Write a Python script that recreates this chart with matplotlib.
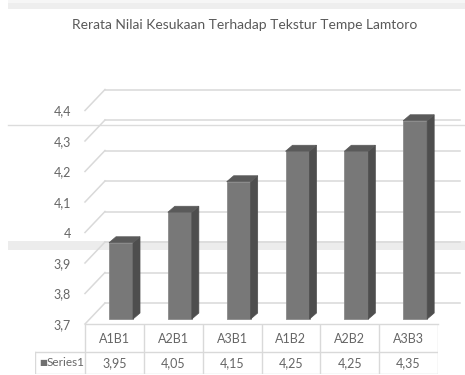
import matplotlib.pyplot as plt
from matplotlib.patches import Polygon, Rectangle
from matplotlib.lines import Line2D

categories = ['A1B1', 'A2B1', 'A3B1', 'A1B2', 'A2B2', 'A3B3']
values = [3.95, 4.05, 4.15, 4.25, 4.25, 4.35]
value_labels = ['3,95', '4,05', '4,15', '4,25', '4,25', '4,35']
yticks = [3.7, 3.8, 3.9, 4.0, 4.1, 4.2, 4.3, 4.4]
ytick_labels = ['3,7', '3,8', '3,9', '4', '4,1', '4,2', '4,3', '4,4']
series_name = 'Series1'
title = 'Rerata Nilai Kesukaan Terhadap Tekstur Tempe Lamtoro'

plt.rcParams['font.family'] = ['Lato', 'DejaVu Sans']

W, H = 465, 375
fig = plt.figure(figsize=(W / 100, H / 100), dpi=100)

# front plane of the 3d chart, in pixels
left, right = 85, 438
y_lo, y_hi = 324, 110.5
ax = fig.add_axes([left / W, (H - y_lo) / H, (right - left) / W, (y_lo - y_hi) / H])
ax.set_xlim(-0.5, len(categories) - 0.5)
ax.set_ylim(yticks[0], yticks[-1])

px_x = len(categories) / (right - left)
px_y = (yticks[-1] - yticks[0]) / (y_lo - y_hi)


def dx(p):
    return p * px_x


def dy(p):
    return p * px_y


grid_c = '#d9d9d9'
txt_c = '#666666'

# back wall gridlines + diagonals on the side wall
for v in yticks:
    ax.plot([-0.5 + dx(20), len(categories) - 0.5 + dx(22)], [v + dy(21)] * 2,
            color=grid_c, lw=1.1, clip_on=False, zorder=1)
    ax.plot([-0.5, -0.5 + dx(20)], [v, v + dy(21)],
            color=grid_c, lw=1.1, clip_on=False, zorder=1)
# front floor edge
ax.plot([-0.5, len(categories) - 0.5], [yticks[0]] * 2, color=grid_c, lw=1, clip_on=False)

# 3d bars
bw = dx(24)
off_x = dx(6.6)
base = yticks[0] + dy(5)
sx, sy = dx(7), dy(6)
for i, v in enumerate(values):
    xl = i + off_x - bw / 2
    xr = xl + bw
    top = v + dy(5)
    ax.bar(i + off_x, top - base, bottom=base, width=bw, color='#787878',
           edgecolor='#8a8a8a', lw=0.6, zorder=3)
    ax.add_patch(Polygon([(xr, base), (xr + sx, base + sy), (xr + sx, top + sy), (xr, top)],
                         closed=True, fc='#4e4e4e', ec='#4e4e4e', lw=0.5, zorder=3, clip_on=False))
    ax.add_patch(Polygon([(xl, top), (xl + sx, top + sy), (xr + sx, top + sy), (xr, top)],
                         closed=True, fc='#5a5a5a', ec='#5a5a5a', lw=0.5, zorder=4, clip_on=False))

ax.set_yticks(yticks)
ax.set_yticklabels(ytick_labels)
ax.tick_params(axis='y', length=0, pad=10, labelsize=9, labelcolor=txt_c)
ax.set_xticks([])
for s in ax.spines.values():
    s.set_visible(False)
ax.patch.set_alpha(0)

fig.text(245 / W, 1 - 25 / H, title, ha='center', va='center', fontsize=10, color='#595959')

# data table under the chart
tab = fig.add_axes([35 / W, (H - 374) / H, (right - 35) / W, (374 - 325) / H])
n = len(categories)
first = -0.5 - 50 * px_x
tab.set_xlim(first, n - 0.5)
tab.set_ylim(0, 49)
tab.axis('off')
lc = '#d9d9d9'
tab.plot([first, n - 0.5], [22, 22], color=lc, lw=1)
tab.plot([first, n - 0.5], [0.5, 0.5], color=lc, lw=1)
tab.plot([first, first], [0.5, 22], color=lc, lw=1)
for k in range(n + 1):
    tab.plot([k - 0.5, k - 0.5], [0.5, 49], color=lc, lw=1)
for i in range(n):
    tab.text(i, 35, categories[i], ha='center', va='center', fontsize=9, color=txt_c)
    tab.text(i, 11, value_labels[i], ha='center', va='center', fontsize=9, color=txt_c)
tab.text(first + 4 * px_x, 11, '\u25a0', ha='left', va='center', fontsize=6, color='#707070',
         family='DejaVu Sans')
tab.text(first + 12 * px_x, 11, series_name, ha='left', va='center', fontsize=8.5, color=txt_c)

# scan artefacts of the source picture (behind the chart)
fig.patches.append(Rectangle((8 / W, 1 - 9 / H), 1, 9 / H, transform=fig.transFigure,
                             fc='#eeeeee', ec='none', zorder=-2))
fig.patches.append(Rectangle((8 / W, 1 - 3 / H), 1, 3 / H, transform=fig.transFigure,
                             fc='#f6f6f6', ec='none', zorder=-2))
fig.lines.append(Line2D([8 / W, 1], [1 - 125 / H] * 2, transform=fig.transFigure,
                        color='#dcdcdc', lw=1, zorder=-2))
fig.patches.append(Rectangle((8 / W, 1 - 250 / H), 1, 9 / H, transform=fig.transFigure,
                             fc='#ececec', ec='none', zorder=-2))

fig.savefig('out.png', dpi=100)
